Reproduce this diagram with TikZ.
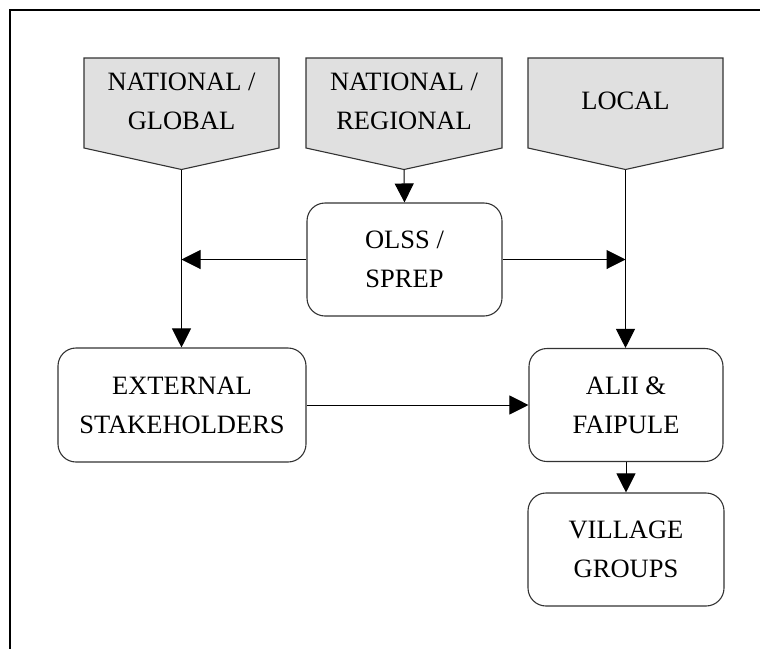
\documentclass[tikz,border=0pt]{standalone}
\usepackage{fontspec}
\setmainfont{Liberation Serif}
\usetikzlibrary{arrows.meta}
\definecolor{penfill}{HTML}{E0E0E0}
\definecolor{edge}{HTML}{333333}
\tikzset{
  lbl/.style={align=center, font=\fontsize{26.5}{39}\selectfont, inner sep=0pt},
  rbox/.style={draw=edge, line width=1.1pt, rounded corners=18pt, align=center,
    font=\fontsize{26.5}{39}\selectfont, inner sep=0pt},
  pent/.style={draw=edge, fill=penfill, line width=1.1pt},
  conn/.style={draw=black, line width=1pt, -{Triangle[length=19pt,width=19pt]}},
}
\begin{document}
\begin{tikzpicture}[x=1pt,y=-1pt]
\useasboundingbox (0,0) rectangle (760,649);
\draw[line width=2.2pt] (760,10) -- (10,10) -- (10,649);

% pentagons
\draw[pent] (84,58) -- (279,58) -- (279,148) -- (181.5,169.5) -- (84,148) -- cycle;
\coordinate (p1) at (181.5,169.5);
\node[lbl] (t1) at (181.5,101) {NATIONAL /\\GLOBAL};

\draw[pent] (306,58) -- (502,58) -- (502,148) -- (404,169.5) -- (306,148) -- cycle;
\coordinate (p2) at (404,169.5);
\node[lbl] (t2) at (404,101) {NATIONAL /\\REGIONAL};

\draw[pent] (528,58) -- (723,58) -- (723,148) -- (625.5,169.5) -- (528,148) -- cycle;
\coordinate (p3) at (625.5,169.5);
\node[lbl] (t3) at (625.5,101) {LOCAL};

% boxes
\node[rbox, minimum width=195pt, minimum height=113pt] (olss) at (404.5,259.5) {OLSS /\\SPREP};
\node[rbox, minimum width=248pt, minimum height=114pt] (ext) at (182,405) {EXTERNAL\\STAKEHOLDERS};
\node[rbox, minimum width=194pt, minimum height=113pt] (alii) at (626,405) {ALII \&\\FAIPULE};
\node[rbox, minimum width=196pt, minimum height=113pt] (vill) at (626,549.5) {VILLAGE\\GROUPS};

% junction coordinates
\coordinate (jl) at (181.5,259.5);
\coordinate (jr) at (625.5,259.5);

% connectors
\draw[conn] (p1) -- (p1 |- ext.north);
\draw[conn] (p2) -- (olss.north);
\draw[conn] (p3) -- (p3 |- alii.north);
\draw[conn] (olss.west) -- (jl);
\draw[conn] (olss.east) -- (jr);
\draw[conn] (ext.east) -- (alii.west);
\draw[conn] (alii.south) -- (vill.north);
\end{tikzpicture}
\end{document}
